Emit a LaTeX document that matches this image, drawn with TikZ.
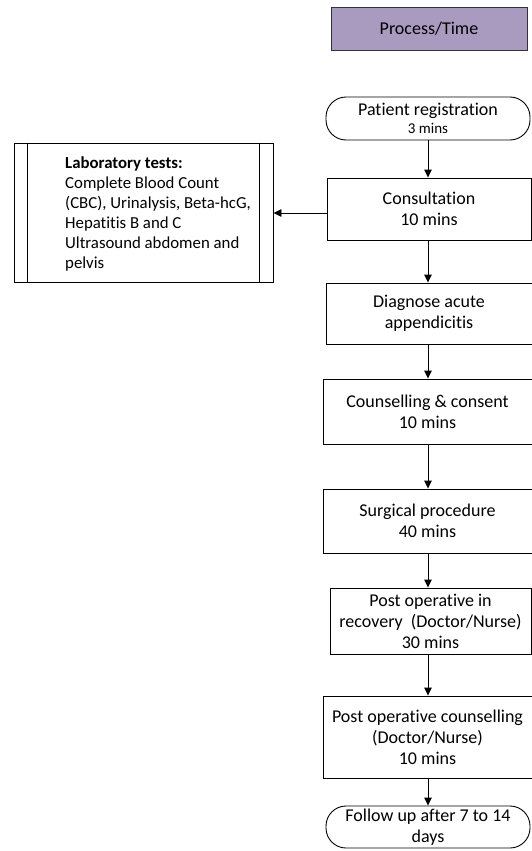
\documentclass[tikz,border=0pt]{standalone}
\usepackage{fontspec}
\setmainfont{Carlito}[Ligatures=CommonOff]
\usetikzlibrary{arrows.meta,calc}
\definecolor{procpurple}{RGB}{169,155,192}
\begin{document}
\frenchspacing
\begin{tikzpicture}[x=1pt,y=-1pt,
  base/.style={draw=black,line width=0.9pt,inner sep=0pt,align=center,
    font=\fontsize{18}{21}\selectfont},
  procbox/.style={base,rectangle},
  termbox/.style={base,rounded corners=20pt},
  headbox/.style={base,fill=procpurple,draw=black!80},
  labtxt/.style={inner sep=0pt,align=flush left,text width=205pt,font=\fontsize{16.8}{20}\selectfont\frenchspacing},
  flow/.style={line width=0.9pt,-{Triangle[length=8pt,width=7.5pt]}}]
\useasboundingbox (0,0) rectangle (532,851);
\node[headbox,minimum width=196pt,minimum height=43pt] (head) at (429,28.5) {Process/Time};
\node[termbox,minimum width=204pt,minimum height=43pt] (reg) at (428,118.5) {Patient registration\\[-3pt]{\fontsize{15}{17}\selectfont 3 mins}};
\node[procbox,minimum width=204pt,minimum height=62pt] (cons) at (429,209) {Consultation\\10 mins};
\node[procbox,minimum width=206pt,minimum height=61pt] (diag) at (429,313.5) {Diagnose acute\\appendicitis};
\node[procbox,minimum width=209pt,minimum height=65pt] (couns) at (427.5,411.5) {Counselling \& consent\\10 mins};
\node[procbox,minimum width=209pt,minimum height=64pt] (surg) at (427.5,521) {Surgical procedure\\40 mins};
\node[procbox,minimum width=201pt,minimum height=66pt] (rec) at (430.5,621) {Post operative in\\recovery\ \ (Doctor/Nurse)\\30 mins};
\node[procbox,minimum width=209pt,minimum height=82pt] (pcoun) at (427.5,737) {Post operative counselling\\(Doctor/Nurse)\\10 mins};
\node[termbox,minimum width=204pt,minimum height=42pt] (fol) at (428,827) {Follow up after 7 to 14\\days};
\node[procbox,minimum width=259pt,minimum height=139pt] (lab) at (143.5,212.5) {};
\draw[line width=0.9pt] ($(lab.north west)+(14,0)$) -- ($(lab.south west)+(14,0)$);
\draw[line width=0.9pt] ($(lab.north east)+(-14,0)$) -- ($(lab.south east)+(-14,0)$);
\node[labtxt,anchor=west] (labt) at (65,214) {\textbf{Laboratory tests:}\\Complete Blood Count\\(CBC), Urinalysis, Beta-hcG,\\Hepatitis B and C\\Ultrasound abdomen and\\pelvis};
\draw[flow] (reg.south -| 428,0) -- (cons.north -| 428,0);
\draw[flow] (cons.south -| 428,0) -- (diag.north -| 428,0);
\draw[flow] (diag.south -| 428,0) -- (couns.north -| 428,0);
\draw[flow] (couns.south -| 428,0) -- (surg.north -| 428,0);
\draw[flow] (surg.south -| 428,0) -- (rec.north -| 428,0);
\draw[flow] (rec.south -| 428,0) -- (pcoun.north -| 428,0);
\draw[flow] (pcoun.south -| 428,0) -- (fol.north -| 428,0);
\draw[flow] (cons.west |- 0,213) -- (lab.east |- 0,213);
\end{tikzpicture}
\end{document}
